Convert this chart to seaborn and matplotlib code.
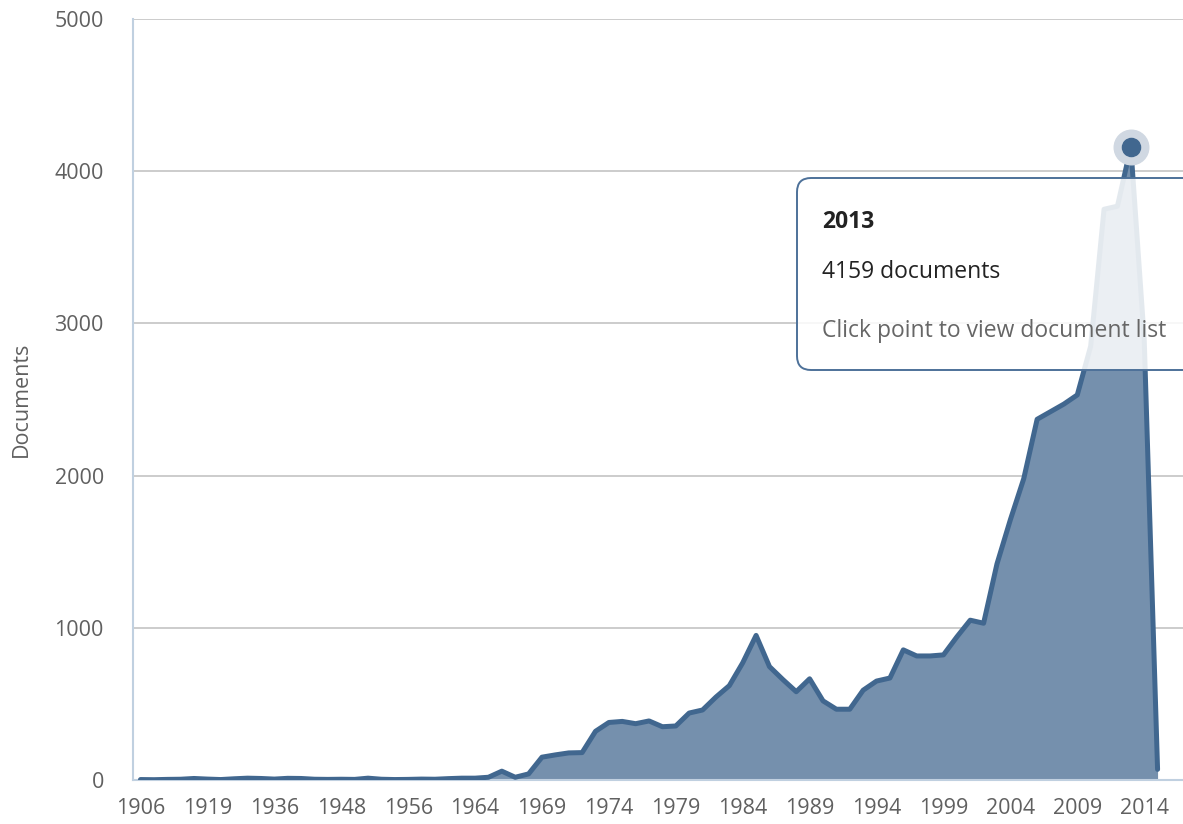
import numpy as np
import pandas as pd
import matplotlib
matplotlib.use("Agg")
import matplotlib.pyplot as plt
import seaborn as sns
from matplotlib.patches import FancyBboxPatch
from matplotlib.transforms import IdentityTransform

# years that have documents (sparse before 1964, every year after)
years_early = [1906, 1908, 1910, 1913, 1916, 1919, 1922, 1926, 1929, 1932,
               1936, 1938, 1940, 1942, 1946, 1948, 1950, 1951, 1953, 1954,
               1956, 1958, 1960, 1962, 1963]
docs_early = [3, 2, 4, 5, 10, 6, 3, 8, 12, 10,
              6, 11, 10, 5, 4, 5, 4, 12, 5, 3,
              4, 6, 5, 9, 12]

years_late = list(range(1964, 2016))
docs_late = [12, 18, 58, 18, 40, 150, 165, 178, 180, 320,
             378, 385, 370, 388, 350, 355, 440, 460, 545, 620,
             770, 950, 745, 660, 580, 665, 520, 465, 465, 590,
             650, 670, 855, 815, 815, 822, 940, 1050, 1030, 1420,
             1710, 1980, 2370, 2420, 2470, 2530, 2850, 3750, 3770, 4159,
             2900, 70]

LINE = "#41678F"
FILL = "#7590AD"
AXIS = "#C0D0E0"
TEXT = "#606060"

df = pd.DataFrame({"year": years_early + years_late,
                   "documents": docs_early + docs_late})
df["pos"] = np.arange(len(df))

sns.set_style("white")
plt.rcParams["font.family"] = ["Open Sans", "DejaVu Sans"]

fig = plt.figure(figsize=(11.83, 8.24), dpi=100)
ax = fig.add_axes([133 / 1183, 44 / 824, 1050 / 1183, 761 / 824])

ax.fill_between(df["pos"], df["documents"], color=FILL, lw=0, zorder=2)
sns.lineplot(data=df, x="pos", y="documents", color=LINE, lw=3.6, ax=ax,
             zorder=3, solid_joinstyle="round", solid_capstyle="round")

# highlighted peak point
peak = df["documents"].idxmax()
ax.scatter(df.loc[peak, "pos"], df.loc[peak, "documents"], s=620,
           color="#D0D8E2", zorder=4, clip_on=False)
ax.scatter(df.loc[peak, "pos"], df.loc[peak, "documents"], s=170,
           color=LINE, zorder=6, clip_on=False)

ax.set_xlim(-0.56, 77.9)
ax.set_ylim(0, 5000)
ax.set_yticks(range(0, 5001, 1000))
ax.set_xticks(df["pos"][::5])
ax.set_xticklabels(df["year"][::5])

ax.yaxis.grid(True, color="#C8C8C8", lw=1.3)
ax.xaxis.grid(False)
ax.set_axisbelow(True)
for s in ["top", "right"]:
    ax.spines[s].set_visible(False)
for s in ["left", "bottom"]:
    ax.spines[s].set_color(AXIS)
    ax.spines[s].set_linewidth(1.5)

ax.tick_params(axis="x", length=11, width=1.4, color=AXIS, labelcolor=TEXT,
               labelsize=15.5, pad=2)
ax.tick_params(axis="y", length=0, labelcolor=TEXT, labelsize=15.5, pad=21)

ax.set_xlabel("")
ax.set_ylabel("Documents", color=TEXT, fontsize=15.5)
ax.yaxis.set_label_coords(-0.096, 0.5)

# tooltip
box = FancyBboxPatch((797, 454), 420, 192,
                     boxstyle="round,pad=0,rounding_size=14",
                     transform=IdentityTransform(), fc=(1, 1, 1, 0.86),
                     ec="#4D7199", lw=1.4, zorder=7, clip_on=False)
ax.add_patch(box)
fig.text(822 / 1183, 1 - 228 / 824, str(df.loc[peak, "year"]),
         fontsize=16.5, fontweight="bold", color="#222222", va="baseline")
fig.text(822 / 1183, 1 - 278 / 824, f"{df.loc[peak, 'documents']} documents",
         fontsize=16.5, color="#222222", va="baseline")
fig.text(822 / 1183, 1 - 337 / 824, "Click point to view document list",
         fontsize=16.5, color="#666666", va="baseline")

fig.savefig("out.png", dpi=100)
